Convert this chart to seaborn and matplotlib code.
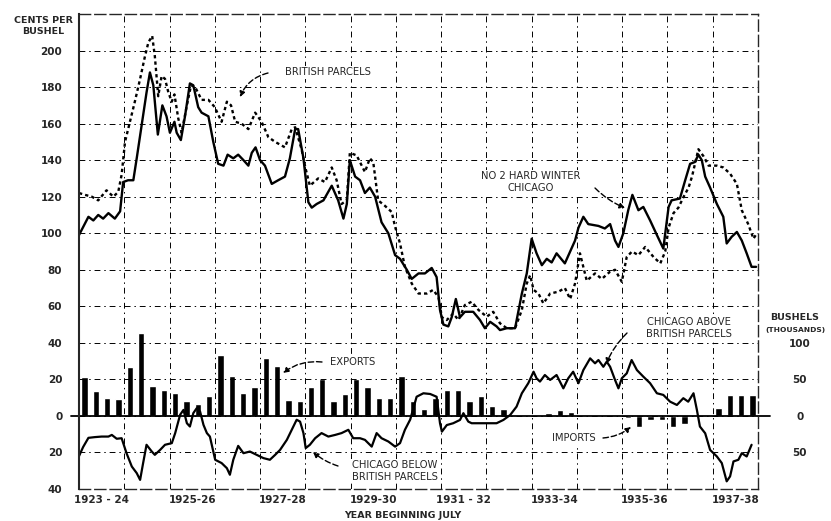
import matplotlib
matplotlib.use("Agg")
import matplotlib.pyplot as plt
import pandas as pd
import seaborn as sns

# Time axis: months counted from July 1923 (0) to June 1938 (180)
chicago_month = [0, 1, 2.5, 3.8, 5.1, 6.4, 7.8, 9.5, 10.9, 11.7, 13, 14.4, 15.3, 16.6, 17.9, 18.8,
                 19.7, 20.9, 22.1, 23.2, 24.1, 25.3, 25.9, 27, 28.1, 29.4, 30.3, 31.6, 32.5, 34.3,
                 35.6, 36.9, 38.3, 39.4, 40.9, 42.2, 43.6, 44.9, 45.8, 46.8, 48, 49.3, 51.1, 52.8,
                 54.6, 55.9, 57.3, 58.1, 59.5, 60.8, 61.7, 63, 64.8, 67, 68.7, 70.1, 71, 71.8, 73.2,
                 74.5, 75.8, 77.1, 78.5, 80.2, 82, 83.8, 85.1, 86.9, 88.2, 90, 91.7, 93.5, 94.8,
                 95.7, 96.6, 97.9, 98.8, 99.9, 101, 102.3, 104.5, 106.3, 107.6, 109, 110.7, 111.6,
                 113.4, 115.6, 117.4, 118.7, 120, 121.3, 122.7, 124, 125.3, 126.6, 128.8, 131.5,
                 132.4, 133.7, 135, 137.7, 139.4, 140.8, 142.1, 143, 144.3, 145.6, 146.7, 148.3,
                 149.6, 151.4, 153.2, 154.9, 156.3, 157.1, 159.3, 160.7, 162, 163.3, 164.2, 165.1,
                 166, 167.3, 169.1, 170.8, 171.7, 173, 174.4, 175.7, 177, 178.3, 179.5]
chicago_cents = [99, 103, 109, 107, 110, 108, 111, 108, 112, 128, 129, 129, 141, 159, 177, 188,
                 181, 154, 170, 164, 155, 161, 155, 151, 164, 182, 181, 169, 166, 164,
                 150, 138, 137, 143, 141, 143, 140, 137, 144, 147, 140, 137, 127, 129,
                 131, 141, 157, 157, 141, 117, 114, 116, 118, 126, 118, 108, 116, 140, 131,
                 129, 122, 125, 120, 106, 100, 88, 86, 80, 75, 78, 78, 81, 76,
                 58, 50, 49, 54, 64, 54, 57, 57, 52.5, 48, 51.5, 49, 47,
                 48, 48, 67, 78, 97, 89, 82.5, 86, 84, 89, 83.5, 96,
                 103, 109, 105, 104, 102.6, 105, 96, 92.5, 100, 112.6, 121, 112.6,
                 114.4, 107, 99, 91.6, 114.4, 118, 119, 129, 138, 139, 143, 140,
                 131, 125, 116, 109, 94.4, 98, 100.7, 96, 89, 81.6, 81.6]

british_month = [0, 1.6, 3.4, 5.1, 7.3, 9.1, 10.4, 11.3, 12.2, 13.5, 14.8, 16.2, 17.5, 18.4, 19.4,
                 20.1, 21, 21.9, 22.8, 23.7, 24.6, 25.3, 26.3, 27.2, 28.6, 29.7, 30.8, 32.5, 34.3,
                 36, 37.8, 39.2, 40.3, 41.4, 43.1, 44.9, 46.7, 48.4, 50.2, 52, 54.6, 56.4, 57.3,
                 59, 60, 61.2, 63.4, 65.2, 67, 68.3, 69.6, 71, 71.8, 73.6, 75.8, 77.1, 78, 79.3,
                 81.1, 82.9, 83.8, 85.1, 86.4, 88.2, 90, 92.2, 93.9, 95.3, 96.2, 97.5, 99.2, 100.6,
                 102.3, 104.1, 105.9, 108.1, 109.8, 111.6, 113.4, 115.6, 117.4, 118.7, 119.6, 120.5,
                 121.8, 123.1, 124.9, 127.1, 128.8, 130.2, 131.5, 132.8, 134.6, 136.8, 138.6, 140.8,
                 142.1, 143.9, 145.2, 146.6, 148.3, 150.1, 152.3, 154.1, 155.4, 156.3, 157.6, 158.9,
                 160.3, 161.6, 162.5, 163.3, 164.2, 165.6, 166.9, 169.1, 170.8, 172.6, 174.4, 175.7,
                 177.4, 178.8, 179.7]
british_cents = [122, 121, 120, 118, 123.5, 120, 122.6, 132, 150, 161, 172, 184.5, 197, 204.5, 208,
                 197, 175, 186, 184.5, 177, 172, 176, 163, 155, 170, 181, 180, 173, 173,
                 169, 161, 172, 170, 161, 160, 157, 166, 161, 152.6, 150, 147, 157, 158,
                 146, 136, 126, 130, 128, 136, 129, 116, 118, 144, 142.6, 133.5, 141, 139, 118,
                 115, 111.6, 103.5, 94.4, 81.6, 72.5, 67, 67, 69, 65, 54, 52.5, 56, 52.5,
                 60.7, 62.5, 58, 54.3, 57, 50.7, 48, 48, 58, 72.5, 77, 69,
                 67, 61.6, 67, 68, 70, 64, 72.5, 89, 74, 78, 75, 79,
                 80, 73.4, 87, 90, 88, 92.5, 87, 83.5, 90, 103, 111, 114,
                 120, 125, 131, 138, 146, 142, 137, 137, 136, 132.6, 127, 112.6,
                 105, 97, 100]

# Chicago price minus British parcels price
spread_month = [0, 1.1, 2.5, 4.2, 6, 7.8, 8.7, 10, 11.3, 12.6, 14, 15.3, 16.2, 17, 17.9, 19.3, 20.1,
                21.5, 22.8, 24.6, 25.5, 26.8, 27.7, 28.6, 29.4, 30.3, 31.2, 32.1, 33, 33.9, 34.7,
                36.1, 37.8, 39.2, 40, 40.9, 42.2, 43.6, 45.3, 47.1, 48.9, 50.6, 52, 53.3, 55.1,
                56.4, 57.7, 58.6, 59.5, 60.1, 61.2, 62.6, 64.3, 66.1, 67.9, 69.6, 71.4, 72.7, 74.5,
                75.8, 77.6, 78.9, 80.2, 82, 83.8, 85.1, 86.4, 87.8, 89.5, 91.3, 93.1, 94.8, 95.7,
                96.2, 97.5, 99.2, 101, 101.9, 103.2, 104.1, 107.2, 110.7, 112.5, 114.3, 116, 117.4,
                119.1, 120.5, 121.3, 122.2, 123.5, 124.9, 126.6, 128.4, 129.7, 131, 132.4, 133.7,
                135.5, 136.8, 137.7, 139, 139.9, 140.8, 142.1, 143, 143.9, 145.2, 146.5, 147.9,
                149.6, 151.4, 153.2, 154.9, 156.7, 158.5, 160.2, 161.5, 162.9, 163.8, 164.6, 166,
                167.3, 169.1, 170.4, 171.7, 172.6, 173.5, 174.8, 175.7, 177, 178.3]
spread_cents = [-22, -17, -12, -11.6, -11.3, -11.3, -10.4, -12.5, -12.2, -20.4, -27.7, -31.3, -35,
                -25.8, -15.8, -19.5, -21.3, -18.6, -15.8, -14.9, -9.4, 0.6, 3.3, -4, -5.8, 1.5,
                4.2, 2.4, -4.9, -9.4, -11.3, -24, -25.8, -28.6, -32.2, -24, -16.4, -20.4, -19.5,
                -21.3, -23.1, -24, -21.3, -18.6, -13.1, -7.6, -2.1, -3.1, -9.4, -17.6, -15.8,
                -12.2, -9.4, -11.3, -10.4, -9.4, -7.6, -12.2, -12.2, -13.1, -16.8, -9.4, -12.2,
                -14, -16.8, -14.9, -7.6, -2, 10.5, 12.4, 12, 10.5, -4, -8.6, -5, -4, -2.2, 1.5,
                -3.1, -4, -4, -4, -2.2, 0.5, 5.1, 12.4, 17.9, 24.2, 20.6, 18.8, 22.4, 19.7, 22.4,
                15.1, 20.6, 24.2, 17.9, 25.1, 31.5, 28.8, 30.6, 26.9, 29.7, 26.9, 19.7, 15.1,
                20.6, 23.3, 30.6, 25.1, 21.5, 17.9, 12.4, 11.5, 7.8, 6, 9.7, 7.8, 12.4, 3.3, -5.8,
                -9.5, -18.6, -22.2, -25.8, -35.8, -33.1, -24.9, -24, -20.4, -22.2, -15.8]

# Quarterly trade, thousand bushels (July-Sept 1923 ... Apr-June 1938)
exports = [53, 34, 25, 23, 67, 113, 41, 36, 32, 20, 16, 27, 83, 54, 31, 40, 79, 69, 22, 21,
           40, 50, 20, 30, 50, 40, 25, 25, 55, 20, 9, 25, 35, 36, 20, 27, 13, 9, 0, 0,
           0, 4, 8, 5, 0, 0, 0, 0, 0, 0, 0, 0, 0, 0, 0, 0, 11, 28, 29, 28]
imports = [0, 0, 0, 0, 0, 0, 0, 0, 0, 0, 0, 0, 0, 0, 0, 0, 0, 0, 0, 0,
           0, 0, 0, 0, 0, 0, 0, 0, 0, 0, 0, 0, 0, 0, 0, 0, 0, 0, 0, 0,
           0, 0, 0, 0, 0, 0, 0, 0, 3, 15, 6, 6, 15, 11, 0, 0, 0, 0, 0, 0]
quarter_month = [3 * q + 1.5 for q in range(len(exports))]

season_labels = ["1923 - 24", "1925-26", "1927-28", "1929-30", "1931 - 32",
                 "1933-34", "1935-36", "1937-38"]
season_month = [6, 30, 54, 78, 102, 126, 150, 174]

sns.set_style("white")
plt.rcParams["font.family"] = ["DejaVu Sans"]

W, H = 831, 521
fig = plt.figure(figsize=(W / 100, H / 100), dpi=100, facecolor="white")
ax = fig.add_axes([79 / W, 1 - 489 / H, (758 - 79) / W, (489 - 14) / H])
ax2 = ax.twinx()
ax.set_zorder(ax2.get_zorder() + 1)
ax.patch.set_visible(False)

# --- trade bars on the bushel scale
trade = pd.DataFrame({"month": quarter_month,
                      "bushels": [e - i for e, i in zip(exports, imports)]})
sns.barplot(data=trade, x="month", y="bushels", native_scale=True, width=0.56,
            color="black", saturation=1, ax=ax2, errorbar=None)
ax2.set_ylim(-100, 550)
ax2.set_ylabel("")
for s in ax2.spines.values():
    s.set_visible(False)
ax2.set_yticks([-50, 0, 50, 100])
ax2.set_yticklabels(["50", "0", "50", "100"], fontsize=7.5, fontweight="bold",
                    ha="center")
ax2.tick_params(axis="y", length=0, pad=30)

# --- price lines
sns.lineplot(x=chicago_month, y=chicago_cents, ax=ax, color="black", lw=1.7)
sns.lineplot(x=british_month, y=british_cents, ax=ax, color="black", lw=1.7,
             linestyle=(0, (1.4, 1.3)))
sns.lineplot(x=spread_month, y=spread_cents, ax=ax, color="black", lw=1.6)

ax.set_xlim(0, 180)
ax.set_ylim(-40, 220)
ax.set_xlabel("")
ax.set_ylabel("")

yt = list(range(-40, 201, 20))
ax.set_yticks(yt)
ax.set_yticklabels([str(abs(v)) for v in yt], fontsize=7.5, fontweight="bold")
ax.set_xticks(list(range(0, 181, 12)))
ax.set_xticklabels([])
ax.set_xticks(season_month, minor=True)
ax.set_xticklabels(season_labels, minor=True, fontsize=7.5, fontweight="bold")
ax.tick_params(axis="y", length=0, pad=12)
ax.tick_params(axis="x", which="both", length=0, pad=4)

grid_ls = (0, (6, 4, 1.5, 4))
ax.grid(True, which="major", color="black", lw=0.7, linestyle=grid_ls)
ax.axhline(0, xmin=-0.012, xmax=1.018, color="black", lw=1.3, clip_on=False)

ax.spines["left"].set_linewidth(1.5)
for side in ("top", "right", "bottom"):
    ax.spines[side].set_linewidth(1.0)
    ax.spines[side].set_linestyle((0, (8, 3)))


def px(x, y):
    return (x, H - y)


def label(text, xy_text):
    ax.annotate(text, xy=px(*xy_text), xycoords="figure pixels", ha="center", va="center",
                fontsize=7.2, linespacing=1.15, annotation_clip=False, zorder=5,
                bbox=dict(boxstyle="square,pad=0.15", fc="white", ec="none"))


def pointer(start, end, rad):
    ax.annotate("", xy=px(*end), xycoords="figure pixels", xytext=px(*start),
                textcoords="figure pixels", annotation_clip=False,
                arrowprops=dict(arrowstyle="-|>", color="black", lw=1.0,
                                linestyle=(0, (4, 2)), mutation_scale=8,
                                connectionstyle=f"arc3,rad={rad}", shrinkA=0, shrinkB=0))


label("BRITISH PARCELS", (328, 72))
pointer((268, 73), (240, 97), 0.25)
label("NO 2 HARD WINTER\nCHICAGO", (531, 182))
pointer((595, 188), (625, 208), 0.1)
label("EXPORTS", (353, 362))
pointer((322, 362), (283, 373), 0.2)
label("CHICAGO BELOW\nBRITISH PARCELS", (395, 471))
pointer((338, 466), (313, 452), -0.1)
label("CHICAGO ABOVE\nBRITISH PARCELS", (689, 328))
pointer((627, 333), (606, 364), 0.1)
label("IMPORTS", (574, 438))
pointer((603, 438), (631, 427), 0.15)

# axis captions
fig.text(43 / W, 1 - 26 / H, "CENTS PER\nBUSHEL", ha="center", va="center",
         fontsize=6.8, fontweight="bold", linespacing=1.2)
fig.text(795 / W, 1 - 317 / H, "BUSHELS", ha="center", va="center",
         fontsize=6.8, fontweight="bold")
fig.text(795 / W, 1 - 330 / H, "(THOUSANDS)", ha="center", va="center",
         fontsize=5.4, fontweight="bold")
fig.text(403 / W, 1 - 515 / H, "YEAR BEGINNING JULY", ha="center", va="center",
         fontsize=6.8, fontweight="bold")

fig.savefig("out.png", dpi=100, facecolor="white")
